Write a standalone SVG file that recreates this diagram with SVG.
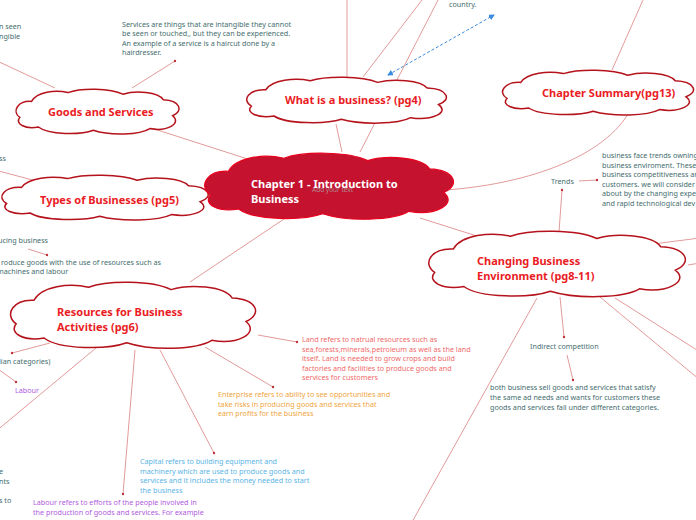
<svg xmlns="http://www.w3.org/2000/svg" width="696" height="520" viewBox="0 0 696 520">
<style>
text{font-family:"Noto Sans","Open Sans","DejaVu Sans",sans-serif}
.t{font-size:7.2px;fill:#456e6e}
.h{font-size:11px;font-weight:bold;fill:#ea1c24}
.c{font-size:11px;font-weight:bold;fill:#fff}
.ln{fill:none;stroke:#e39a9a;stroke-width:1}
.dot{fill:#c0303a}
.cl{fill:#fff;stroke:#b5121b;stroke-width:1.5}
.land{fill:#f06a6a}.ent{fill:#f0a540}.cap{fill:#5ab4e5}.lab{fill:#b05ce0}
</style>
<defs>
<path id="cloud" vector-effect="non-scaling-stroke" d="M22 18C6 17-2 30 8 38C2 46 14 53 30 50C42 60 80 60 95 54C115 61 150 60 162 52C182 56 200 46 189 36C202 30 198 17 178 16C172 6 145 4 130 9C115 1 80 1 65 7C50 3 28 6 22 18Z"/>
<marker id="ah" viewBox="0 0 6 6" refX="5" refY="3" markerWidth="6" markerHeight="6" orient="auto-start-reverse"><path d="M0 0L6 3L0 6Z" fill="#3b8be0"/></marker>
</defs>
<g id="connectors">
<path class="ln" d="M132 88L175 61"/><circle class="dot" cx="175" cy="61" r="1.2"/>
<path class="ln" d="M55 88L-5 60"/>
<path class="ln" d="M145 126L257 162"/>
<path class="ln" d="M347 77L347 0"/>
<path class="ln" d="M363 77L422 0"/>
<path class="ln" d="M360 152L438 0"/>
<path class="ln" d="M336 124L342 152"/>
<path class="ln" d="M612 70L643 0"/>
<path class="ln" d="M445 190C520 185 600 160 628 114"/>
<path class="ln" d="M559 232L562 190"/><circle class="dot" cx="562" cy="190" r="1.2"/>
<path class="ln" d="M579 181L597 180"/><circle class="dot" cx="597" cy="180" r="1.2"/>
<path class="ln" d="M420 218L480 237"/>
<path class="ln" d="M645 245L700 238"/>
<path class="ln" d="M688 265L700 263"/>
<path class="ln" d="M600 297L700 380"/>
<path class="ln" d="M615 298L700 352"/>
<path class="ln" d="M537 298L412 522"/>
<path class="ln" d="M560 297L564 337"/><circle class="dot" cx="564" cy="337" r="1.2"/>
<path class="ln" d="M567 355L573 380"/><circle class="dot" cx="573" cy="380" r="1.2"/>
<path class="ln" d="M290 215L190 282"/>
<path class="ln" d="M28 249L47 255"/><circle class="dot" cx="47" cy="255" r="1.2"/>
<path class="ln" d="M40 182L-5 170"/>
<path class="ln" d="M50 343L12 353"/><circle class="dot" cx="12" cy="353" r="1.2"/>
<path class="ln" d="M-2 369L16 382"/><circle class="dot" cx="16" cy="382" r="1.2"/>
<path class="ln" d="M102 343L-5 432"/>
<path class="ln" d="M135 350L123 494"/><circle class="dot" cx="123" cy="494" r="1.2"/>
<path class="ln" d="M160 350L214 453"/><circle class="dot" cx="214" cy="453" r="1.2"/>
<path class="ln" d="M205 347L273 387"/><circle class="dot" cx="273" cy="387" r="1.2"/>
<path class="ln" d="M258 335L297 342"/><circle class="dot" cx="297" cy="342" r="1.2"/>
<path d="M388 75L494 15" fill="none" stroke="#3b8be0" stroke-width="1" stroke-dasharray="3 2" marker-start="url(#ah)" marker-end="url(#ah)"/>
</g>
<g id="texts">
<text class="t" x="-1" y="29">n seen</text>
<text class="t" x="-1" y="39">ngible</text>
<text class="t"><tspan x="122" y="26.5">Services are things that are intangible they cannot</tspan><tspan x="122" y="36">be seen or touched,, but they can be experienced.</tspan><tspan x="122" y="45.5">An example of a service is a haircut done by a</tspan><tspan x="122" y="55">hairdresser.</tspan></text>
<text class="t" x="449" y="7">country.</text>
<text class="t" x="551" y="184">Trends</text>
<text class="t"><tspan x="602" y="158">business face trends owning</tspan><tspan x="602" y="167.5">business enviroment. These</tspan><tspan x="602" y="177">business competitiveness and</tspan><tspan x="602" y="186.5">customers. we will consider</tspan><tspan x="602" y="196">about by the changing expe</tspan><tspan x="602" y="205.5">and rapid technological dev</tspan></text>
<text class="t" x="530" y="349">Indirect competition</text>
<text class="t"><tspan x="490" y="390">both business sell goods and services that satisfy</tspan><tspan x="490" y="400">the same ad needs and wants for customers these</tspan><tspan x="490" y="410">goods and services fall under different categories.</tspan></text>
<text class="t" x="-1" y="161">ss</text>
<text class="t" x="-2" y="243">ucing business</text>
<text class="t"><tspan x="1" y="265">roduce goods with the use of resources such as</tspan><tspan x="-3" y="274">machines and labour</tspan></text>
<text class="t" x="-1" y="364">lian categories)</text>
<text class="t lab" x="15" y="393">Labour</text>
<text class="t" x="-1" y="474">e</text>
<text class="t" x="-1" y="484">nts</text>
<text class="t" x="-1" y="503">s to</text>
<text class="t land"><tspan x="302" y="342">Land refers to natrual resources such as</tspan><tspan x="302" y="351.5">sea,forests,minerals,petroleum as well as the land</tspan><tspan x="302" y="361">itself. Land is needed to grow crops and build</tspan><tspan x="302" y="370.5">factories and facilities to produce goods and</tspan><tspan x="302" y="380">services for customers</tspan></text>
<text class="t ent"><tspan x="218" y="397">Enterprise refers to ability to see opportunities and</tspan><tspan x="218" y="406.5">take risks in producing goods and services that</tspan><tspan x="218" y="416">earn profits for the business</tspan></text>
<text class="t cap"><tspan x="140" y="464">Capital refers to building equipment and</tspan><tspan x="140" y="473.5">machinery which are used to produce goods and</tspan><tspan x="140" y="483">services and it includes the money needed to start</tspan><tspan x="140" y="492.5">the business</tspan></text>
<text class="t lab"><tspan x="33" y="505">Labour refers to efforts of the people involved in</tspan><tspan x="33" y="514.5">the production of goods and services. For example</tspan></text>
</g>
<g id="goods">
<use href="#cloud" class="cl" transform="translate(13 87) scale(0.845 0.8)"/>
<text class="h" x="48" y="116">Goods and Services</text>
</g>
<g id="what-is-business">
<use href="#cloud" class="cl" transform="translate(243 75) scale(1.035 0.82)"/>
<text class="h" x="285" y="104">What is a business? (pg4)</text>
</g>
<g id="chapter-summary">
<use href="#cloud" class="cl" transform="translate(499 68) scale(0.99 0.8)"/>
<text class="h" x="542" y="97">Chapter Summary(pg13)</text>
</g>
<g id="types">
<use href="#cloud" class="cl" transform="translate(-2 173) scale(1.07 0.8)"/>
<text class="h" x="40" y="204">Types of Businesses (pg5)</text>
</g>
<g id="resources">
<use href="#cloud" class="cl" transform="translate(6 279) scale(1.27 1.18)"/>
<text class="h"><tspan x="57" y="316">Resources for Business</tspan><tspan x="57" y="331">Activities (pg6)</tspan></text>
</g>
<g id="central">
<use href="#cloud" transform="translate(200 150) scale(1.29 1.18)" fill="#c4122f" stroke="#e8001c" stroke-width="1.2"/>
<text x="312" y="192" style="font-size:6.5px;fill:#b08890">Add your text</text>
<text class="c"><tspan x="251" y="188">Chapter 1 - Introduction to</tspan><tspan x="251" y="203">Business</tspan></text>
</g>
<g id="changing">
<use href="#cloud" class="cl" transform="translate(424 228) scale(1.33 1.17)"/>
<text class="h"><tspan x="477" y="265">Changing Business</tspan><tspan x="477" y="280">Environment (pg8-11)</tspan></text>
</g>
</svg>
